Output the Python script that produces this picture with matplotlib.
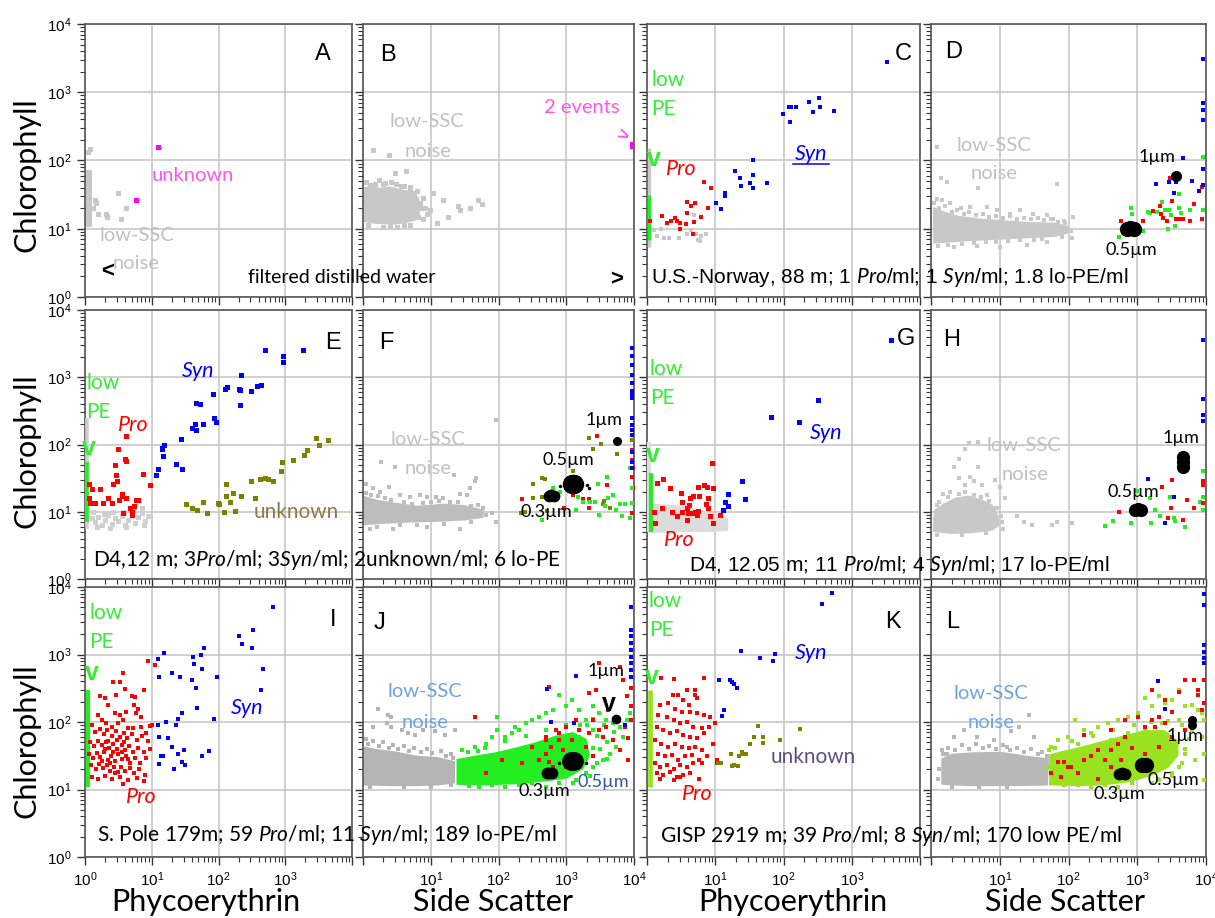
import numpy as np
import matplotlib.pyplot as plt

plt.rcParams['mathtext.fontset'] = 'custom'
plt.rcParams['mathtext.rm'] = 'Liberation Sans'
plt.rcParams['mathtext.it'] = 'Lato:italic'
plt.rcParams['font.family'] = ['Liberation Sans', 'DejaVu Sans']

# every point below is (log10 x, log10 y); bars are [log10 x, log10 y0, log10 y1]

# A - filtered distilled water
a_noise_bar = [0.065, 1.03, 1.86]
a_noise = [[0.07, 2.17], [0.05, 2.12], [0.17, 1.37], [0.20, 1.22], [0.32, 1.22], [0.33, 1.17],
           [0.50, 1.53], [0.54, 1.15], [0.61, 1.30], [0.12, 1.30], [0.15, 1.42]]
a_unknown = [[1.10, 2.20], [0.77, 1.42]]

# B - filtered distilled water, side scatter
b_noise_core = [[0.0, 1.10], [0.2, 1.07], [0.45, 1.06], [0.62, 1.08], [0.78, 1.12], [0.84, 1.22],
                [0.83, 1.45], [0.72, 1.55], [0.55, 1.58], [0.40, 1.62], [0.25, 1.60], [0.10, 1.63], [0.0, 1.60]]
b_noise = [[0.15, 2.15], [0.39, 2.08], [0.47, 1.81], [0.64, 1.85], [0.69, 1.61], [0.30, 1.66], [0.10, 1.64],
           [0.76, 1.52], [0.84, 1.37], [0.99, 1.27], [1.03, 1.53], [1.09, 1.09], [1.18, 1.42], [1.26, 1.17],
           [1.40, 1.34], [1.43, 1.28], [1.58, 1.30], [1.70, 1.42], [1.76, 1.36], [0.91, 1.30], [0.94, 1.22],
           [0.81, 1.17], [0.05, 1.68], [0.18, 1.66], [0.32, 1.67], [0.48, 1.65], [0.60, 1.62], [0.70, 1.60],
           [0.80, 1.55], [0.08, 1.05], [0.30, 1.03], [0.50, 1.02], [0.70, 1.05], [0.88, 1.15],
           [0.24, 1.71], [0.42, 1.69], [0.56, 1.63], [0.88, 1.45], [0.86, 1.30], [0.40, 1.04], [0.60, 1.06]]
b_events = [[3.97, 2.20], [3.97, 2.24]]

# C - U.S.-Norway 88 m
c_noise_bar = [0.025, 0.73, 2.18]
c_noise = [[0.15, 0.90], [0.25, 0.87], [0.32, 0.87], [0.47, 0.86], [0.64, 0.98], [0.72, 0.93], [0.74, 0.84],
           [0.77, 0.82], [0.79, 0.90], [0.87, 0.93], [0.20, 1.00], [0.69, 1.20], [0.10, 0.98], [0.59, 0.93]]
c_lowpe = [0.025, 0.83, 1.49]
c_pro = [[0.05, 1.11], [0.22, 1.18], [0.30, 1.09], [0.35, 1.11], [0.41, 1.16], [0.44, 1.12], [0.49, 1.09],
         [0.49, 1.00], [0.57, 1.07], [0.58, 1.23], [0.59, 1.39], [0.65, 1.33], [0.69, 1.10], [0.70, 1.38],
         [0.79, 1.17], [0.84, 1.69], [0.94, 1.59], [0.89, 1.31], [0.68, 0.92]]
c_syn = [[1.01, 1.38], [1.08, 1.29], [1.14, 1.48], [1.15, 1.53], [1.29, 1.84], [1.36, 1.75], [1.38, 1.62],
         [1.51, 1.67], [1.55, 1.60], [1.56, 1.79], [1.55, 2.01], [1.76, 1.67], [1.99, 2.68], [2.08, 2.79],
         [2.11, 2.78], [2.09, 2.56], [2.19, 2.79], [2.38, 2.85], [2.43, 2.71], [2.52, 2.92], [2.54, 2.78],
         [2.74, 2.73], [3.51, 3.45]]

# D - U.S.-Norway 88 m, side scatter
d_noise_core = [[0.03, 0.78], [0.3, 0.80], [0.6, 0.82], [1.0, 0.84], [1.4, 0.86], [1.8, 0.88], [2.0, 0.93],
                [2.0, 1.04], [1.8, 1.09], [1.4, 1.10], [1.0, 1.13], [0.7, 1.15], [0.4, 1.19], [0.2, 1.25], [0.03, 1.32]]
d_noise = [[0.09, 2.20], [0.14, 1.74], [0.23, 1.69], [0.69, 1.59], [0.43, 1.30], [0.81, 1.32], [1.83, 1.66],
           [2.07, 1.17], [2.05, 0.86], [0.09, 1.44], [0.16, 1.42], [0.28, 1.37], [0.57, 1.32], [0.96, 1.27],
           [1.15, 1.22], [1.30, 1.27], [1.49, 1.22], [1.69, 1.20], [1.78, 1.15], [1.93, 1.12], [1.69, 0.81],
           [1.39, 0.76], [1.01, 0.73], [0.67, 0.74], [0.33, 0.73],
           [0.05, 1.37], [0.12, 1.31], [0.20, 1.33], [0.30, 1.25], [0.38, 1.28], [0.48, 1.22], [0.55, 1.24],
           [0.65, 1.20], [0.75, 1.22], [0.85, 1.17], [0.95, 1.19], [1.05, 1.16], [1.15, 1.18], [1.25, 1.15],
           [1.35, 1.16], [1.45, 1.14], [1.55, 1.16], [1.65, 1.13], [1.75, 1.15], [1.85, 1.10], [1.95, 1.08],
           [0.10, 0.75], [0.25, 0.76], [0.45, 0.78], [0.62, 0.79], [0.80, 0.80], [0.95, 0.81], [1.12, 0.82],
           [1.30, 0.83], [1.50, 0.84], [1.62, 0.85], [1.90, 0.88], [2.03, 0.97]]
d_green = [[2.74, 0.88], [2.80, 1.04], [2.91, 1.31], [2.93, 1.22], [3.09, 0.97], [3.15, 1.24], [3.19, 1.23],
           [3.29, 1.24], [3.36, 1.39], [3.40, 1.28], [3.44, 0.99], [3.46, 1.28], [3.49, 1.20], [3.55, 1.04],
           [3.60, 1.51], [3.61, 1.31], [3.63, 1.23], [3.77, 1.27], [3.95, 2.05], [3.96, 1.27]]
d_red = [[2.77, 1.11], [2.85, 0.95], [3.09, 1.11], [3.23, 1.26], [3.33, 1.33], [3.34, 1.21], [3.38, 1.16],
         [3.43, 1.12], [3.51, 1.40], [3.57, 1.15], [3.61, 1.15], [3.67, 1.15], [3.76, 1.12], [3.83, 1.36],
         [3.94, 1.14], [3.94, 1.61], [3.48, 1.74]]
d_blue = [[3.27, 1.65], [3.46, 1.69], [3.56, 1.69], [3.53, 1.52], [3.66, 2.04], [3.79, 1.70], [3.90, 1.56],
          [3.96, 1.88], [3.96, 3.48], [3.96, 2.84], [3.96, 2.74], [3.96, 2.59], [3.95, 1.64]]
d_bead05 = [[2.85, 1.00], [2.90, 1.01], [2.95, 1.00]]
d_bead1 = [[3.57, 1.78]]

# E - D4 12 m
e_noise_bar = [0.035, 0.75, 2.39]
e_noise = [[0.10, 0.90], [0.15, 0.85], [0.20, 0.92], [0.25, 0.80], [0.30, 0.88], [0.35, 0.95], [0.40, 0.82],
           [0.45, 0.90], [0.50, 0.86], [0.55, 0.93], [0.60, 0.80], [0.65, 0.88], [0.70, 0.95], [0.75, 0.84],
           [0.80, 0.92], [0.85, 0.98], [0.90, 0.86], [0.95, 0.94], [0.12, 1.00], [0.28, 0.97], [0.42, 0.99],
           [0.58, 1.00], [0.72, 1.03], [0.85, 1.05], [0.18, 0.78], [0.38, 0.76], [0.62, 0.77], [0.88, 0.80]]
e_lowpe = [0.035, 0.85, 1.74]
e_pro = [[0.06, 1.42], [0.10, 1.34], [0.06, 1.20], [0.08, 1.13], [0.15, 1.13], [0.22, 1.34], [0.27, 1.13],
         [0.34, 1.21], [0.42, 1.41], [0.41, 1.13], [0.45, 1.69], [0.46, 1.55], [0.48, 1.46], [0.50, 1.93],
         [0.51, 1.17], [0.55, 1.26], [0.56, 1.23], [0.60, 1.78], [0.61, 2.12], [0.61, 1.76], [0.62, 1.20],
         [0.57, 0.98], [0.67, 1.05], [0.70, 0.95], [0.71, 1.00], [0.74, 1.08], [0.77, 1.17], [0.80, 1.17],
         [0.87, 1.56], [0.97, 1.40]]
e_syn = [[1.07, 1.55], [1.09, 1.64], [1.16, 1.93], [1.16, 1.95], [1.17, 1.83], [1.19, 2.00], [1.37, 1.71],
         [1.44, 2.08], [1.46, 1.64], [1.60, 2.24], [1.65, 2.31], [1.67, 2.22], [1.67, 2.61], [1.72, 2.60],
         [1.77, 2.30], [1.92, 2.75], [1.94, 2.40], [1.96, 2.34], [2.10, 2.83], [2.12, 2.85], [2.30, 2.83],
         [2.32, 2.81], [2.32, 2.59], [2.34, 3.03], [2.49, 2.79], [2.58, 2.87], [2.64, 2.89], [2.69, 3.41],
         [2.96, 3.32], [2.97, 3.22], [3.27, 3.41]]
e_unknown = [[1.52, 1.12], [1.60, 1.05], [1.68, 1.03], [1.77, 1.14], [1.83, 0.98], [1.99, 1.13], [2.01, 1.11],
             [2.08, 1.00], [2.11, 1.23], [2.11, 1.41], [2.17, 1.14], [2.22, 1.28], [2.25, 1.01], [2.33, 1.24],
             [2.49, 1.46], [2.54, 1.20], [2.62, 1.48], [2.69, 1.50], [2.74, 1.49], [2.81, 1.45], [2.94, 1.61],
             [2.95, 1.74], [3.11, 1.77], [3.28, 1.85], [3.33, 1.92], [3.46, 2.09], [3.51, 1.99], [3.64, 2.07]]

# F - D4 12 m, side scatter
f_noise_core = [[0.0, 0.80], [0.3, 0.82], [0.7, 0.84], [1.1, 0.85], [1.5, 0.87], [1.78, 0.91], [1.78, 1.03],
                [1.5, 1.10], [1.2, 1.12], [0.8, 1.09], [0.5, 1.13], [0.2, 1.18], [0.0, 1.24]]
f_noise = [[1.97, 2.36], [0.27, 1.74], [0.47, 1.66], [1.35, 1.55], [1.67, 1.50], [1.53, 1.25], [1.97, 0.85],
           [0.84, 1.25], [1.08, 1.22], [0.05, 1.42], [0.15, 1.35], [0.25, 1.30], [0.39, 1.37], [0.54, 1.25],
           [0.69, 1.22], [0.94, 1.22], [1.18, 1.20], [1.43, 1.27], [1.58, 1.35], [1.65, 1.45], [1.77, 1.05],
           [1.90, 0.98], [1.43, 0.75], [0.94, 0.78], [0.44, 0.75], [0.10, 0.75],
           [0.04, 1.28], [0.12, 1.25], [0.22, 1.23], [0.32, 1.20], [0.42, 1.17], [0.60, 1.15], [0.72, 1.12],
           [0.88, 1.13], [1.00, 1.14], [1.12, 1.16], [1.28, 1.15], [1.40, 1.14], [1.60, 1.09], [1.70, 1.10],
           [0.20, 0.78], [0.55, 0.80], [0.80, 0.81], [1.20, 0.82], [1.60, 0.85], [1.82, 0.95]]
f_unknown = [[2.33, 0.98], [2.39, 1.00], [2.51, 1.42], [2.51, 1.21], [2.64, 1.50], [2.68, 1.49], [2.64, 1.22],
             [2.71, 1.01], [3.10, 1.61], [3.33, 2.10], [3.39, 1.93], [3.51, 2.01], [3.75, 1.86], [3.55, 1.16],
             [3.65, 1.05], [3.54, 1.12], [3.97, 2.07]]
f_red = [[2.34, 1.19], [2.97, 1.06], [3.00, 1.35], [3.10, 1.25], [3.25, 1.19], [3.33, 1.19], [3.33, 1.05],
         [3.46, 2.12], [3.60, 1.40], [3.97, 1.77], [3.98, 1.65], [3.97, 0.98], [3.98, 1.35], [3.97, 1.92], [3.97, 1.52]]
f_green = [[2.64, 0.88], [2.80, 1.35], [2.91, 1.30], [3.15, 1.03], [3.18, 1.22], [3.24, 1.15], [3.35, 1.15],
           [3.43, 1.15], [3.47, 1.42], [3.49, 0.95], [3.57, 1.08], [3.60, 1.51], [3.62, 1.20], [3.69, 1.25],
           [3.74, 1.03], [3.79, 1.11], [3.82, 0.93], [3.87, 1.11], [3.94, 0.90], [3.97, 1.35], [3.97, 1.13], [3.94, 1.65]]
f_blue = [[3.97, 3.43], [3.97, 3.31], [3.97, 3.18], [3.97, 3.03], [3.97, 2.92], [3.97, 2.79], [3.97, 2.74],
          [3.97, 2.69], [3.97, 2.39], [3.97, 2.29], [3.97, 2.22], [3.97, 2.14], [3.97, 1.89], [3.97, 1.74], [3.97, 1.65]]
f_bead03 = [[2.74, 1.24], [2.78, 1.25], [2.82, 1.24]]
f_bead05 = [[3.08, 1.42], [3.12, 1.42]]
f_bead1 = [[3.75, 2.05]]
f_bead_dots = [[2.91, 1.39], [3.30, 1.40], [3.33, 1.36]]

# G - D4 12.05 m
g_noise_bar = [0.03, 0.70, 2.04]
g_noise_core = [[0.02, 0.68], [0.6, 0.70], [1.0, 0.70], [1.19, 0.72], [1.19, 0.90], [1.0, 0.98], [0.7, 1.05],
                [0.4, 1.10], [0.1, 1.12], [0.02, 1.10]]
g_lowpe = [0.06, 0.70, 1.57]
g_pro = [[0.10, 1.00], [0.12, 0.83], [0.15, 1.43], [0.22, 1.05], [0.24, 1.49], [0.33, 1.35], [0.36, 1.00],
         [0.44, 0.94], [0.50, 1.28], [0.51, 1.14], [0.52, 0.99], [0.58, 0.88], [0.59, 1.05], [0.60, 0.98],
         [0.62, 1.10], [0.63, 1.21], [0.67, 1.24], [0.68, 0.98], [0.71, 1.00], [0.73, 0.95], [0.74, 1.01],
         [0.75, 1.37], [0.76, 1.23], [0.84, 1.40], [0.86, 1.11], [0.88, 1.37], [0.89, 1.05], [0.90, 1.20],
         [0.93, 0.93], [0.95, 1.72], [0.97, 1.35], [0.97, 0.84], [1.07, 0.95]]
g_syn = [[1.12, 1.03], [1.15, 1.15], [1.18, 1.27], [1.19, 1.08], [1.39, 1.45], [1.44, 1.19], [1.82, 2.41],
         [2.23, 2.34], [2.50, 2.66], [3.58, 3.56]]

# H - D4 12.05 m, side scatter
h_noise_core = [[0.03, 0.70], [0.3, 0.67], [0.6, 0.68], [0.9, 0.72], [1.0, 0.80], [0.98, 0.95], [0.9, 1.10],
                [0.75, 1.18], [0.55, 1.24], [0.35, 1.21], [0.18, 1.12], [0.05, 1.03], [0.03, 0.90]]
h_noise = [[0.50, 1.94], [0.55, 2.02], [0.69, 2.04], [0.40, 1.79], [0.33, 1.67], [0.69, 1.67], [0.40, 1.50],
           [0.57, 1.52], [0.50, 1.40], [0.62, 1.45], [0.74, 1.40], [0.93, 1.47], [1.01, 1.37], [1.08, 1.20],
           [0.96, 1.05], [1.25, 0.93], [1.35, 0.85], [1.47, 0.81], [1.76, 0.81], [1.83, 0.85], [2.05, 0.83],
           [0.18, 1.27], [0.09, 1.10], [0.28, 1.30], [0.81, 1.25], [1.03, 0.85],
           [0.12, 1.15], [0.25, 1.22], [0.40, 1.27], [0.50, 1.29], [0.62, 1.25], [0.72, 1.22], [0.85, 1.16],
           [0.95, 1.05], [1.02, 0.93], [1.05, 0.75], [0.08, 0.66], [0.45, 0.65], [0.80, 0.68]]
h_green = [[2.53, 0.79], [2.64, 0.86], [2.91, 0.84], [2.99, 1.31], [3.18, 1.21], [3.20, 0.84], [3.26, 1.03],
           [3.33, 0.94], [3.48, 1.22], [3.53, 0.91], [3.55, 0.86], [3.69, 0.78], [3.91, 1.15], [3.96, 1.22],
           [3.96, 1.03], [3.96, 1.60]]
h_red = [[2.73, 0.99], [3.36, 1.37], [3.50, 1.47], [3.44, 0.91], [3.49, 1.05], [3.66, 0.87], [3.73, 1.17],
         [3.83, 1.05], [3.96, 1.45], [3.96, 1.40], [3.96, 1.13]]
h_blue = [[3.16, 1.49], [3.54, 1.22], [3.41, 0.84], [3.96, 3.56], [3.96, 2.68], [3.96, 2.44], [3.96, 2.35]]
h_bead05 = [[2.97, 1.03], [3.01, 1.04], [3.05, 1.03]]
h_bead1 = [[3.66, 1.66], [3.66, 1.74], [3.66, 1.82]]

# I - S. Pole 179 m
i_lowpe = [0.04, 1.04, 2.48]
i_pro = [[0.95, 2.91], [1.05, 2.85], [0.57, 2.72], [0.52, 2.60], [0.42, 2.60], [0.47, 2.40], [0.60, 2.49],
         [0.70, 2.39], [0.75, 2.37], [0.89, 2.48], [0.22, 2.38], [0.30, 2.35], [0.35, 2.25], [0.45, 2.13],
         [0.52, 2.10], [0.62, 2.15], [0.74, 2.25], [0.77, 2.13], [0.84, 2.08], [0.97, 1.94], [1.01, 1.96],
         [0.79, 2.20], [0.20, 2.10], [0.25, 2.03], [0.32, 1.98], [0.40, 1.93], [0.50, 1.98], [0.57, 2.03],
         [0.64, 1.91], [0.72, 1.91], [0.84, 1.93], [0.92, 1.83],
         [0.10, 1.95], [0.15, 1.85], [0.22, 1.90], [0.28, 1.82], [0.33, 1.88], [0.40, 1.80], [0.46, 1.86],
         [0.52, 1.78], [0.58, 1.84], [0.63, 1.76], [0.70, 1.82], [0.78, 1.74], [0.86, 1.80], [0.95, 1.72],
         [0.08, 1.70], [0.14, 1.64], [0.19, 1.72], [0.25, 1.66], [0.31, 1.70], [0.36, 1.62], [0.42, 1.68],
         [0.48, 1.60], [0.55, 1.66], [0.60, 1.58], [0.66, 1.64], [0.72, 1.56], [0.80, 1.62], [0.88, 1.55],
         [0.97, 1.60], [0.06, 1.52], [0.12, 1.46], [0.18, 1.54], [0.23, 1.48], [0.29, 1.55], [0.34, 1.44],
         [0.39, 1.50], [0.45, 1.42], [0.50, 1.52], [0.56, 1.45], [0.62, 1.50], [0.68, 1.40], [0.75, 1.47],
         [0.83, 1.40], [0.92, 1.46], [0.09, 1.36], [0.16, 1.30], [0.21, 1.38], [0.27, 1.32], [0.33, 1.36],
         [0.38, 1.28], [0.44, 1.34], [0.49, 1.26], [0.54, 1.33], [0.60, 1.27], [0.67, 1.32], [0.73, 1.24],
         [0.81, 1.30], [0.90, 1.22], [0.11, 1.18], [0.20, 1.15], [0.30, 1.20], [0.41, 1.16], [0.52, 1.18],
         [0.64, 1.14], [0.78, 1.17], [0.88, 1.12], [0.57, 1.08], [0.35, 1.72], [0.42, 1.55], [0.48, 1.73],
         [0.30, 1.60], [0.55, 1.55], [0.38, 1.40], [0.25, 1.42], [0.58, 1.70], [0.45, 1.25], [0.65, 1.45]]
i_syn = [[1.09, 2.94], [1.11, 2.66], [1.19, 3.02], [1.31, 2.72], [1.43, 2.67], [1.61, 2.62], [1.62, 2.97],
         [1.64, 2.86], [1.66, 2.51], [1.74, 3.00], [1.75, 2.78], [1.78, 3.09], [1.98, 2.67], [2.30, 3.27],
         [2.35, 3.15], [2.50, 3.09], [2.52, 3.36], [2.67, 2.78], [2.63, 2.48], [2.81, 3.70], [1.09, 1.96],
         [1.21, 2.00], [1.36, 1.95], [1.39, 2.05], [1.46, 2.14], [1.68, 2.21], [1.93, 2.05], [1.11, 1.78],
         [1.24, 1.76], [1.31, 1.63], [1.39, 1.52], [1.49, 1.58], [1.14, 1.49], [1.17, 1.49], [1.46, 1.41],
         [1.50, 1.37], [1.33, 1.31], [1.11, 1.38], [1.75, 1.49], [1.86, 1.57]]

# J - S. Pole 179 m, side scatter
j_noise_core = [[0.0, 1.06], [0.4, 1.05], [0.8, 1.05], [1.1, 1.06], [1.36, 1.09], [1.36, 1.42], [1.1, 1.48],
                [0.8, 1.50], [0.5, 1.56], [0.2, 1.60], [0.0, 1.64]]
j_noise = [[0.22, 2.20], [0.37, 2.10], [0.42, 2.08], [0.15, 1.93], [0.35, 1.98], [0.42, 1.93], [0.57, 1.88],
           [0.67, 1.83], [0.77, 1.81], [0.89, 1.88], [1.06, 1.86], [1.36, 1.88], [1.21, 1.81], [0.05, 1.75],
           [0.15, 1.72], [0.30, 1.70], [0.45, 1.66], [0.60, 1.64], [0.75, 1.62], [0.95, 1.60], [1.15, 1.57],
           [1.30, 1.52], [0.08, 1.67], [0.24, 1.64], [0.38, 1.62], [0.52, 1.60], [0.68, 1.57], [0.85, 1.55],
           [1.02, 1.54], [1.22, 1.50], [1.33, 1.46], [0.10, 1.04], [0.60, 1.03], [1.00, 1.03], [1.30, 1.06]]
j_green_core = [[1.38, 1.07], [1.8, 1.06], [2.3, 1.08], [2.7, 1.12], [3.0, 1.16], [3.25, 1.30], [3.35, 1.50],
                [3.3, 1.75], [3.1, 1.85], [2.85, 1.80], [2.55, 1.70], [2.25, 1.62], [1.95, 1.55], [1.65, 1.50],
                [1.38, 1.45]]
j_green = [[1.51, 1.44], [1.41, 1.14], [1.46, 1.58], [1.66, 1.63], [1.81, 1.68], [1.91, 1.78], [1.98, 1.88],
           [2.10, 1.78], [2.20, 1.83], [2.25, 1.93], [2.30, 1.88], [2.40, 1.98], [2.50, 2.03], [2.60, 2.08],
           [2.70, 2.13], [2.80, 2.18], [2.90, 2.40], [3.00, 2.23], [3.09, 2.33], [3.19, 2.18], [3.29, 2.03],
           [3.39, 2.23], [3.49, 2.13], [3.59, 2.03], [3.69, 1.98], [3.79, 1.93], [3.89, 2.03], [3.94, 2.13],
           [3.84, 1.78], [3.74, 1.63], [3.64, 1.53], [3.54, 1.44], [3.39, 1.34], [3.29, 1.24], [3.14, 1.14],
           [2.90, 1.09], [2.70, 1.04], [2.50, 1.09], [2.30, 1.06], [2.10, 1.04], [1.91, 1.06], [1.71, 1.04],
           [1.56, 1.05], [3.00, 1.63], [3.19, 1.78], [3.39, 1.88], [1.98, 2.08],
           [3.45, 1.40], [3.50, 1.60], [3.45, 1.80], [3.55, 1.95], [3.30, 1.95], [3.00, 1.95], [2.70, 1.88],
           [2.40, 1.80], [2.10, 1.72], [1.80, 1.62], [1.55, 1.56], [3.60, 1.70], [3.70, 1.85], [3.40, 2.05],
           [3.20, 1.95], [3.40, 1.62], [3.60, 1.45], [3.35, 1.20], [3.10, 1.10], [1.70, 1.57]]
j_red = [[1.66, 2.08], [2.75, 2.52], [3.49, 2.87], [3.79, 2.82], [3.84, 2.62], [3.96, 2.50], [3.89, 2.38],
         [3.61, 2.18], [3.86, 1.93], [3.91, 1.76], [3.91, 1.44], [3.49, 1.88], [3.34, 1.83], [3.19, 1.88],
         [3.09, 1.73], [2.90, 1.73], [2.77, 1.63], [2.70, 1.53], [2.75, 1.41], [2.95, 1.58], [1.81, 1.24],
         [2.05, 1.44], [2.35, 1.39], [2.50, 1.63], [2.70, 1.73], [2.80, 1.34], [2.90, 1.83], [3.00, 1.93],
         [3.14, 2.03], [3.39, 2.03], [3.54, 1.78], [3.69, 1.73], [3.79, 1.58], [2.70, 1.78], [2.85, 1.88],
         [2.60, 1.44], [3.00, 1.34], [3.29, 1.63], [3.39, 1.49], [3.59, 1.93], [3.44, 2.48], [3.34, 2.43],
         [3.96, 2.23], [3.96, 2.03]]
j_blue = [[2.72, 2.49], [3.14, 2.68], [2.77, 2.00], [3.12, 1.98], [3.86, 1.96], [3.95, 3.71], [3.95, 3.37],
          [3.95, 3.27], [3.95, 3.17], [3.95, 3.07], [3.95, 2.97], [3.95, 2.87], [3.95, 2.77], [3.95, 2.67]]
j_bead03 = [[2.71, 1.24], [2.75, 1.25], [2.79, 1.24]]
j_bead05 = [[3.07, 1.42], [3.11, 1.42]]
j_bead1 = [[3.74, 2.04]]
j_bead_dots = [[2.90, 1.40], [3.29, 1.39]]

# K - GISP 2919 m
k_lowpe = [0.04, 1.04, 2.48]
k_pro = [[0.21, 2.65], [0.39, 2.64], [0.84, 2.65], [0.59, 2.48], [0.71, 2.48], [0.71, 2.40], [0.38, 2.40],
         [0.46, 2.40], [0.53, 2.33], [0.61, 2.25], [0.73, 2.35], [0.31, 2.28], [0.19, 2.25], [0.41, 2.20],
         [0.51, 2.15], [0.63, 2.15], [0.73, 2.13], [0.83, 2.10], [0.93, 2.08], [1.00, 1.98], [0.16, 2.10],
         [0.29, 2.08], [0.39, 2.03], [0.49, 1.98], [0.58, 2.00], [0.68, 1.93], [0.81, 1.91], [0.91, 1.93],
         [0.14, 1.93], [0.24, 1.88], [0.34, 1.83], [0.44, 1.86], [0.53, 1.81], [0.63, 1.78], [0.73, 1.76],
         [0.83, 1.83], [0.11, 1.73], [0.21, 1.68], [0.31, 1.63], [0.41, 1.68], [0.51, 1.63], [0.61, 1.61],
         [0.71, 1.63], [0.81, 1.58], [0.96, 1.68], [0.16, 1.53], [0.26, 1.49], [0.36, 1.51], [0.46, 1.44],
         [0.56, 1.49], [0.66, 1.51], [0.76, 1.44], [0.88, 1.49], [1.03, 1.44], [0.11, 1.39], [0.19, 1.34],
         [0.29, 1.36], [0.39, 1.31], [0.49, 1.36], [0.58, 1.34], [0.68, 1.39], [0.81, 1.39], [1.03, 1.39],
         [0.14, 1.24], [0.24, 1.21], [0.34, 1.26], [0.44, 1.19], [0.53, 1.21], [0.63, 1.24], [0.76, 1.16],
         [0.19, 1.16], [0.49, 1.18], [0.39, 1.14]]
k_syn = [[1.05, 2.62], [1.21, 2.62], [1.25, 2.60], [1.28, 2.56], [1.32, 2.51], [1.10, 2.09], [1.13, 2.18],
         [1.38, 3.05], [1.65, 2.95], [1.85, 2.90], [1.87, 3.01], [2.56, 3.75], [2.71, 3.91]]
k_unknown = [[1.04, 1.40], [1.09, 1.40], [1.23, 1.53], [1.24, 1.35], [1.27, 1.37], [1.34, 1.35], [1.35, 1.49],
             [1.39, 1.55], [1.40, 1.52], [1.45, 1.52], [1.51, 1.67], [1.57, 1.78], [1.63, 1.94], [1.70, 1.78],
             [1.70, 1.69], [1.95, 1.73], [2.24, 1.89]]

# L - GISP 2919 m, side scatter
l_noise_core = [[0.15, 1.07], [0.5, 1.05], [0.9, 1.05], [1.3, 1.05], [1.7, 1.06], [1.72, 1.46], [1.4, 1.50],
                [1.0, 1.56], [0.6, 1.55], [0.3, 1.53], [0.15, 1.46]]
l_noise = [[0.33, 1.78], [0.48, 1.88], [0.67, 1.78], [0.92, 1.73], [1.16, 1.86], [1.28, 1.93], [1.43, 2.10],
           [1.50, 1.78], [1.11, 1.63], [0.16, 1.58], [0.23, 1.53], [0.25, 1.62], [0.45, 1.66], [0.65, 1.68],
           [0.85, 1.64], [1.05, 1.66], [1.25, 1.62], [1.45, 1.60], [1.62, 1.56],
           [0.18, 1.52], [0.35, 1.59], [0.55, 1.60], [0.75, 1.61], [0.95, 1.60], [1.15, 1.58], [1.35, 1.55],
           [1.55, 1.52], [1.68, 1.50], [0.12, 1.30], [0.10, 1.15], [0.30, 1.04], [0.70, 1.03], [1.10, 1.03]]
l_green_core = [[1.72, 1.06], [2.1, 1.05], [2.5, 1.06], [2.9, 1.11], [3.2, 1.20], [3.45, 1.32], [3.6, 1.50],
                [3.6, 1.72], [3.4, 1.88], [3.1, 1.88], [2.8, 1.80], [2.5, 1.72], [2.2, 1.64], [1.95, 1.58],
                [1.72, 1.52]]
l_green = [[1.75, 1.63], [1.84, 1.73], [1.99, 1.78], [2.09, 2.03], [2.23, 1.88], [2.33, 1.83], [2.43, 1.93],
           [2.58, 1.98], [2.72, 2.03], [2.87, 2.08], [3.01, 2.13], [3.11, 2.35], [3.21, 2.23], [3.31, 2.38],
           [3.40, 2.28], [3.50, 2.33], [3.60, 2.48], [3.70, 2.23], [3.80, 2.25], [3.89, 2.18], [3.94, 2.13],
           [3.97, 2.03], [3.94, 1.78], [3.97, 1.53], [3.97, 1.14], [3.84, 1.44], [3.70, 1.53], [3.60, 1.34],
           [3.50, 1.24], [3.31, 1.14], [3.21, 1.09], [3.11, 1.24], [2.92, 1.09], [2.72, 1.04], [2.53, 1.06],
           [2.33, 1.04], [2.14, 1.06], [1.94, 1.06], [1.75, 1.09], [1.70, 1.34], [2.62, 1.73], [2.87, 1.83],
           [3.11, 1.88], [3.36, 1.98], [3.60, 2.03], [3.80, 1.88], [2.43, 1.63], [2.14, 1.68],
           [3.70, 1.60], [3.75, 1.75], [3.65, 1.95], [3.45, 2.02], [3.20, 2.00], [2.95, 1.95], [2.65, 1.88],
           [2.35, 1.80], [2.05, 1.72], [1.80, 1.62], [3.50, 1.20], [3.30, 1.15], [1.72, 1.58], [3.65, 1.40]]
l_red = [[1.84, 1.41], [1.94, 1.41], [1.99, 1.34], [2.23, 1.81], [2.33, 1.49], [2.43, 1.58], [2.53, 1.44],
         [2.62, 1.58], [2.72, 1.68], [2.82, 1.78], [2.92, 1.61], [3.01, 2.08], [3.11, 1.93], [3.21, 2.03],
         [3.31, 2.08], [3.40, 1.98], [3.50, 2.15], [3.60, 2.45], [3.70, 2.62], [3.89, 2.40], [3.97, 2.62],
         [3.97, 2.28], [3.94, 2.18], [2.43, 1.16], [2.62, 1.34], [2.77, 1.44], [2.14, 1.24], [1.75, 1.24],
         [1.89, 1.19], [2.04, 1.34], [2.23, 1.44], [2.62, 1.88], [2.82, 2.03], [3.11, 1.53], [3.31, 1.63],
         [3.50, 1.78], [3.70, 1.88], [3.21, 2.48], [3.40, 2.33], [3.26, 1.93], [3.82, 2.62], [3.89, 2.48]]
l_blue = [[3.97, 3.89], [3.97, 3.74], [3.97, 3.14], [3.97, 3.04], [3.97, 2.95], [3.97, 2.87], [3.30, 2.61], [3.41, 2.19]]
l_bead03 = [[2.74, 1.23], [2.78, 1.24], [2.82, 1.23]]
l_bead05 = [[3.07, 1.37], [3.13, 1.37]]
l_bead1 = [[3.79, 2.03], [3.79, 1.96]]

GRAY = '#c8c8c8'
GREEN = '#22ee22'
LIME = '#99e21f'
RED = '#ff0000'
BLUE = '#0000ff'
OLIVE = '#808000'

fig = plt.figure(figsize=(12.15, 9.18), dpi=100)
W, H = 1215.0, 918.0
cols = [(85, 352), (363, 634), (647, 920), (931, 1206)]
rows = [(24, 297), (310, 579), (587, 857)]
exp_lab = ['$\\mathdefault{10^{%d}}$' % k for k in range(5)]
bottom_labels = [[0, 1, 2, 3], [1, 2, 3, 4], [1, 2, 3], [1, 2, 3, 4]]

axes = []
for r, (y0, y1) in enumerate(rows):
    for c, (x0, x1) in enumerate(cols):
        ax = fig.add_axes([x0 / W, 1 - y1 / H, (x1 - x0) / W, (y1 - y0) / H])
        ax.set_xscale('log')
        ax.set_yscale('log')
        ax.set_xlim(1, 1e4)
        ax.set_ylim(1, 1e4)
        ax.set_facecolor('none')
        ax.set_xticks([1, 10, 100, 1000, 10000])
        ax.set_yticks([1, 10, 100, 1000, 10000])
        ax.grid(True, which='major', color='#c4c4c4', lw=1.1)
        ax.set_axisbelow(True)
        ax.tick_params(which='both', direction='out', color='#333333', labelsize=11)
        ax.tick_params(which='major', length=6, width=1)
        ax.tick_params(which='minor', length=3.5, width=0.8)
        for s in ax.spines.values():
            s.set_color('#555555')
            s.set_linewidth(1.2)
        if c == 0:
            ax.set_yticklabels(exp_lab)
        else:
            ax.set_yticklabels([''] * 5)
        if r == 2:
            ax.set_xticklabels([exp_lab[k] if k in bottom_labels[c] else '' for k in range(5)])
        else:
            ax.set_xticklabels([''] * 5)
        axes.append(ax)

axA, axB, axC, axD, axE, axF, axG, axH, axI, axJ, axK, axL = axes


def dots(ax, pts, color, ms, z=3):
    p = np.asarray(pts, dtype=float)
    ax.plot(10 ** p[:, 0], 10 ** p[:, 1], 's', color=color, ms=ms, mew=0, zorder=z)


def cloud(ax, poly, color):
    p = np.asarray(poly, dtype=float)
    ax.fill(10 ** p[:, 0], 10 ** p[:, 1], color=color, lw=0, zorder=2)


def bar(ax, b, color, lw):
    ax.plot([10 ** b[0]] * 2, [10 ** b[1], 10 ** b[2]], color=color, lw=lw,
            solid_capstyle='butt', zorder=3)


def beads(ax, pts, ms):
    p = np.asarray(pts, dtype=float)
    ax.plot(10 ** p[:, 0], 10 ** p[:, 1], 'o', color='black', ms=ms, mew=0, zorder=6)


def label(ax, x, y, s, color='black', size=14.5, family='Lato', ha='center', **kw):
    ax.text(x, y, s, transform=ax.transAxes, color=color, fontsize=size, family=family,
            ha=ha, va='center', zorder=8, **kw)


def letter(ax, x, y, s):
    ax.text(x, y, s, transform=ax.transAxes, fontsize=17, family='Liberation Sans',
            ha='center', va='center', zorder=8)


def info(ax, x, y, s, family):
    fig.text(x, y, s, transform=ax.transAxes, fontsize=15, family=family,
             ha='left', va='center', zorder=10)


def lowpe(ax, x, y_low, y_pe, y_v, color='#33ee33'):
    label(ax, x, y_low, 'low', color=color, size=15, ha='left')
    label(ax, x, y_pe, 'PE', color=color, size=15, ha='left')
    ax.text(x + 0.01, y_v, 'v', transform=ax.transAxes, color=color, fontsize=18,
            family='Liberation Sans', fontweight='bold', ha='center', va='center', zorder=8)


# A
bar(axA, a_noise_bar, GRAY, 4.3)
dots(axA, a_noise, GRAY, 3.6)
dots(axA, a_unknown, '#ff00ff', 3.6)
letter(axA, 0.89, 0.89, 'A')
label(axA, 0.405, 0.445, 'unknown', color='#ff55ee')
label(axA, 0.196, 0.225, 'low-SSC', color='#c0c0c0')
label(axA, 0.19, 0.122, 'noise', color='#c0c0c0')
axA.text(0.084, 0.092, '<', transform=axA.transAxes, fontsize=16, fontweight='bold', ha='center', va='center')
fig.text(0.61, 0.073, 'filtered distilled water', transform=axA.transAxes, fontsize=14,
         family='Lato', ha='left', va='center', zorder=10)

# B
cloud(axB, b_noise_core, GRAY)
dots(axB, b_noise, GRAY, 3.6)
dots(axB, b_events, '#ff00ff', 2.5)
letter(axB, 0.093, 0.887, 'B')
label(axB, 0.807, 0.694, '2 events', color='#ff55ee')
label(axB, 0.234, 0.642, 'low-SSC', color='#c0c0c0')
label(axB, 0.24, 0.532, 'noise', color='#c0c0c0')
axB.text(0.936, 0.061, '>', transform=axB.transAxes, fontsize=16, fontweight='bold', ha='center', va='center')
axB.text(0.955, 0.59, '>', transform=axB.transAxes, fontsize=14, fontweight='bold', color='#ff55ee',
         rotation=-25, ha='center', va='center')

# C
bar(axC, c_noise_bar, GRAY, 2.4)
dots(axC, c_noise, GRAY, 2.9)
bar(axC, c_lowpe, GREEN, 2.4)
dots(axC, c_pro, RED, 2.9)
dots(axC, c_syn, BLUE, 2.9)
letter(axC, 0.94, 0.89, 'C')
lowpe(axC, 0.015, 0.795, 0.69, 0.507)
label(axC, 0.124, 0.47, 'Pro', color=RED, size=15.5, style='italic')
label(axC, 0.60, 0.523, 'Syn', color=BLUE, size=15.5, style='italic')
axC.plot([0.536, 0.665], [0.489, 0.489], transform=axC.transAxes, color=BLUE, lw=1.1, zorder=8)
info(axC, 0.015, 0.073, 'U.S.-Norway, 88 m; 1 $\\mathit{Pro}$/ml; 1 $\\mathit{Syn}$/ml; 1.8 lo-PE/ml',
     'Liberation Sans')

# D
cloud(axD, d_noise_core, GRAY)
dots(axD, d_noise, GRAY, 2.9)
dots(axD, d_green, GREEN, 2.9)
dots(axD, d_red, RED, 2.9)
dots(axD, d_blue, BLUE, 2.9)
beads(axD, d_bead05, 11)
beads(axD, d_bead1, 8)
letter(axD, 0.082, 0.898, 'D')
label(axD, 0.82, 0.513, '1µm', size=13)
label(axD, 0.73, 0.171, '0.5µm', size=13)
label(axD, 0.228, 0.556, 'low-SSC', color='#c0c0c0')
label(axD, 0.228, 0.452, 'noise', color='#c0c0c0')

# E
bar(axE, e_noise_bar, '#d0d0d0', 2.6)
dots(axE, e_noise, '#d0d0d0', 3.6)
bar(axE, e_lowpe, GREEN, 2.6)
dots(axE, e_pro, RED, 3.6)
dots(axE, e_syn, BLUE, 3.6)
dots(axE, e_unknown, OLIVE, 3.6)
letter(axE, 0.93, 0.876, 'E')
lowpe(axE, 0.006, 0.727, 0.622, 0.486)
label(axE, 0.18, 0.573, 'Pro', color=RED, size=15.5, style='italic')
label(axE, 0.424, 0.773, 'Syn', color=BLUE, size=15.5, style='italic')
label(axE, 0.79, 0.25, 'unknown', color='#8c7a4a', size=15)
info(axE, 0.03, 0.071, 'D4,12 m; 3$\\mathit{Pro}$/ml; 3$\\mathit{Syn}$/ml; 2unknown/ml; 6 lo-PE', 'Lato')

# F
cloud(axF, f_noise_core, '#bdbdbd')
dots(axF, f_noise, '#bdbdbd', 2.5)
dots(axF, f_unknown, OLIVE, 2.5)
dots(axF, f_red, RED, 2.5)
dots(axF, f_green, GREEN, 2.5)
dots(axF, f_blue, BLUE, 2.5)
beads(axF, f_bead03, 8.5)
beads(axF, f_bead05, 14)
beads(axF, f_bead1, 6.5)
beads(axF, f_bead_dots, 2.5)
letter(axF, 0.086, 0.876, 'F')
label(axF, 0.89, 0.591, '1µm', size=13)
label(axF, 0.757, 0.442, '0.5µm', size=13)
label(axF, 0.677, 0.248, '0.3µm', size=13)
label(axF, 0.24, 0.517, 'low-SSC', color='#c0c0c0')
label(axF, 0.24, 0.411, 'noise', color='#c0c0c0')

# G
cloud(axG, g_noise_core, '#dcdcdc')
bar(axG, g_noise_bar, '#dcdcdc', 3.0)
bar(axG, g_lowpe, GREEN, 3.0)
dots(axG, g_pro, RED, 3.6)
dots(axG, g_syn, BLUE, 3.6)
letter(axG, 0.95, 0.891, 'G')
lowpe(axG, 0.01, 0.78, 0.672, 0.46)
label(axG, 0.656, 0.541, 'Syn', color=BLUE, size=15.5, style='italic')
label(axG, 0.118, 0.145, 'Pro', color=RED, size=15.5, style='italic')
info(axG, 0.154, 0.052, 'D4, 12.05 m; 11 $\\mathit{Pro}$/ml; 4 $\\mathit{Syn}$/ml; 17 lo-PE/ml',
     'Liberation Sans')

# H
cloud(axH, h_noise_core, GRAY)
dots(axH, h_noise, GRAY, 3.2)
dots(axH, h_green, GREEN, 3.2)
dots(axH, h_red, RED, 3.2)
dots(axH, h_blue, BLUE, 3.2)
beads(axH, h_bead05, 9.5)
beads(axH, h_bead1, 9.5)
letter(axH, 0.076, 0.888, 'H')
label(axH, 0.91, 0.523, '1µm', size=13)
label(axH, 0.734, 0.325, '0.5µm', size=13)
label(axH, 0.337, 0.498, 'low-SSC', color='#c0c0c0')
label(axH, 0.343, 0.387, 'noise', color='#c0c0c0')

# I
bar(axI, i_lowpe, GREEN, 3.0)
dots(axI, i_pro, RED, 2.5)
dots(axI, i_syn, BLUE, 2.5)
letter(axI, 0.928, 0.879, 'I')
lowpe(axI, 0.015, 0.903, 0.798, 0.683)
label(axI, 0.606, 0.551, 'Syn', color=BLUE, size=15.5, style='italic')
label(axI, 0.21, 0.223, 'Pro', color=RED, size=15.5, style='italic')
info(axI, 0.045, 0.081, 'S. Pole 179m; 59 $\\mathit{Pro}$/ml; 11 $\\mathit{Syn}$/ml; 189 lo-PE/ml', 'Lato')

# J
cloud(axJ, j_noise_core, '#b4b4b4')
dots(axJ, j_noise, '#b4b4b4', 2.5)
cloud(axJ, j_green_core, GREEN)
dots(axJ, j_green, GREEN, 2.5)
dots(axJ, j_red, RED, 2.5, z=4)
dots(axJ, j_blue, BLUE, 2.5, z=4)
beads(axJ, j_bead03, 8.5)
beads(axJ, j_bead05, 13.5)
beads(axJ, j_bead1, 7)
beads(axJ, j_bead_dots, 2.5)
letter(axJ, 0.062, 0.866, 'J')
label(axJ, 0.897, 0.69, '1µm', size=13)
label(axJ, 0.885, 0.278, '0.5µm', color='#2f5597', size=13)
label(axJ, 0.668, 0.245, '0.3µm', size=13)
label(axJ, 0.229, 0.613, 'low-SSC', color='#6fa3dc')
label(axJ, 0.229, 0.50, 'noise', color='#6fa3dc')
axJ.text(0.907, 0.567, 'v', transform=axJ.transAxes, fontsize=18, fontweight='bold',
         ha='center', va='center', zorder=8)

# K
bar(axK, k_lowpe, LIME, 3.4)
dots(axK, k_pro, RED, 3.2)
dots(axK, k_syn, BLUE, 3.2)
dots(axK, k_unknown, OLIVE, 3.2)
letter(axK, 0.90, 0.872, 'K')
lowpe(axK, 0.007, 0.947, 0.842, 0.668)
label(axK, 0.60, 0.755, 'Syn', color=BLUE, size=15.5, style='italic')
label(axK, 0.61, 0.371, 'unknown', color='#5d4f85', size=15)
label(axK, 0.183, 0.235, 'Pro', color=RED, size=15.5, style='italic')
info(axK, 0.048, 0.078, 'GISP 2919 m; 39 $\\mathit{Pro}$/ml; 8 $\\mathit{Syn}$/ml; 170 low PE/ml', 'Lato')

# L
cloud(axL, l_noise_core, '#b8b8b8')
dots(axL, l_noise, '#b8b8b8', 2.4)
cloud(axL, l_green_core, LIME)
dots(axL, l_green, LIME, 2.4)
dots(axL, l_red, RED, 2.4, z=4)
dots(axL, l_blue, BLUE, 2.4, z=4)
beads(axL, l_bead03, 8.5)
beads(axL, l_bead05, 11)
beads(axL, l_bead1, 6.5)
letter(axL, 0.08, 0.872, 'L')
label(axL, 0.924, 0.448, '1µm', size=13)
label(axL, 0.882, 0.285, '0.5µm', size=13)
label(axL, 0.683, 0.235, '0.3µm', size=13)
label(axL, 0.217, 0.606, 'low-SSC', color='#6fa3dc')
label(axL, 0.217, 0.50, 'noise', color='#6fa3dc')

# axis titles
for yc in [175, 451, 741]:
    fig.text(27 / W, 1 - yc / H, 'Chlorophyll', rotation=90, fontsize=22, family='Lato',
             ha='center', va='center')
for xc, s in [(206, 'Phycoerythrin'), (493, 'Side Scatter'), (793, 'Phycoerythrin'), (1065, 'Side Scatter')]:
    fig.text(xc / W, 1 - 902 / H, s, fontsize=22, family='Lato', ha='center', va='center')

fig.savefig('out.png', dpi=100)
